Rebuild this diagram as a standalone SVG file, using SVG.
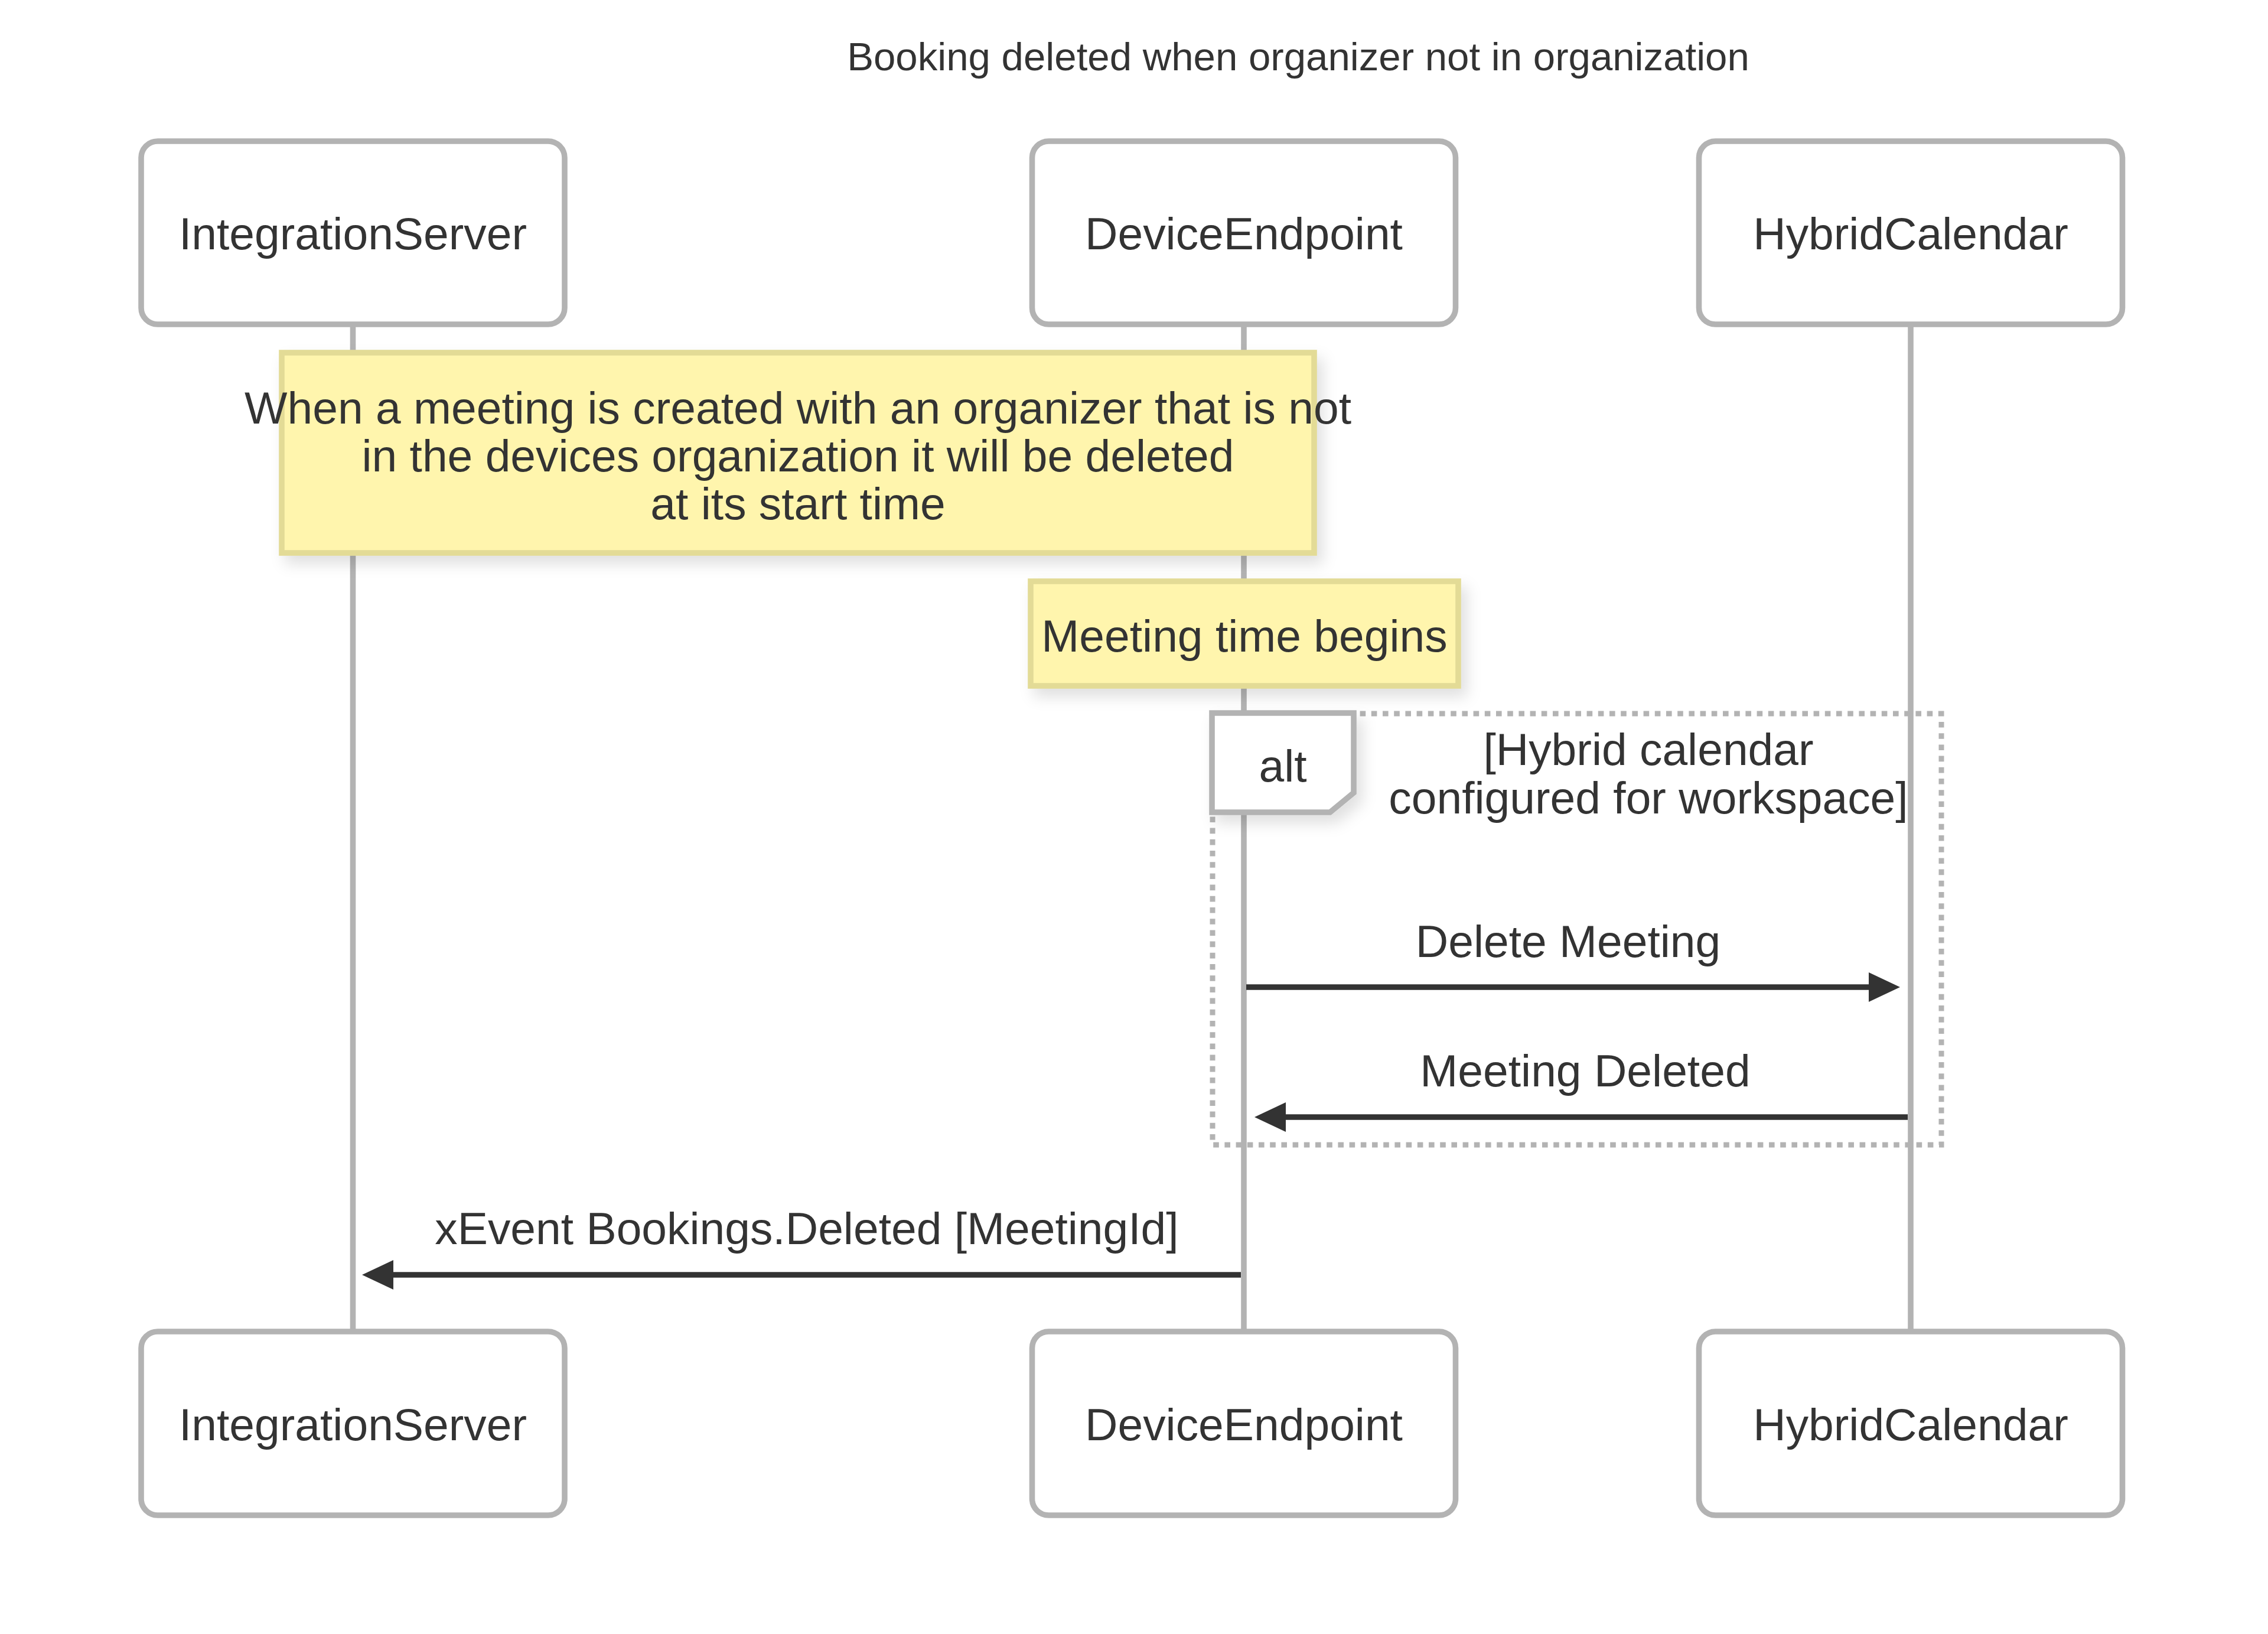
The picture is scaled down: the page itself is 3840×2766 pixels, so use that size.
<svg xmlns="http://www.w3.org/2000/svg" width="3840" height="2766" viewBox="0 0 3840 2766">
<style>
  .txt{font-family:"Liberation Sans",Arial,Helvetica,sans-serif;fill:#333333;font-size:76.8px;text-anchor:middle}
  .title{font-size:67.2px}
  .actor{fill:#ffffff;stroke:#b3b3b3;stroke-width:9.6}
  .life{stroke:#b3b3b3;stroke-width:9.6;fill:none}
  .note{fill:#fff5ad;stroke:#e3db96;stroke-width:9.6}
  .loop{fill:none;stroke:#b3b3b3;stroke-width:9;stroke-dasharray:9.6 9.6}
  .label{fill:#ffffff;stroke:#b3b3b3;stroke-width:9.6}
  .msg{stroke:#333333;stroke-width:9.6;fill:none}
</style>
<defs>
  <filter id="shadow" x="-10%" y="-10%" width="130%" height="140%">
    <feDropShadow dx="10" dy="14" stdDeviation="12" flood-color="#000000" flood-opacity="0.12"/>
  </filter>
  <marker id="arrow" markerUnits="userSpaceOnUse" viewBox="0 0 53 50" markerWidth="53" markerHeight="50" refX="43" refY="25" orient="auto">
    <path d="M0,0 L53,25 L0,50 z" fill="#333333"/>
  </marker>
</defs>
<rect x="0" y="0" width="3840" height="2766" fill="#ffffff"/>
<text class="txt title" x="2198" y="119">Booking deleted when organizer not in organization</text>

<g id="lifelines">
  <line class="life" x1="597.5" y1="549" x2="597.5" y2="2254"/>
  <line class="life" x1="2106" y1="549" x2="2106" y2="2254"/>
  <line class="life" x1="3235" y1="549" x2="3235" y2="2254"/>
</g>

<g id="actor-IntegrationServer-top">
  <rect class="actor" x="239" y="239" width="717" height="310" rx="28" ry="28"/>
  <text class="txt" x="597.5" y="422">IntegrationServer</text>
</g>
<g id="actor-DeviceEndpoint-top">
  <rect class="actor" x="1747.5" y="239" width="717" height="310" rx="28" ry="28"/>
  <text class="txt" x="2106" y="422">DeviceEndpoint</text>
</g>
<g id="actor-HybridCalendar-top">
  <rect class="actor" x="2876.5" y="239" width="717" height="310" rx="28" ry="28"/>
  <text class="txt" x="3235" y="422">HybridCalendar</text>
</g>

<g id="note-organizer">
  <rect class="note" x="477" y="597" width="1748" height="339" filter="url(#shadow)"/>
  <text class="txt" x="1351" y="717">When a meeting is created with an organizer that is not</text>
  <text class="txt" x="1351" y="798">in the devices organization it will be deleted</text>
  <text class="txt" x="1351" y="879">at its start time</text>
</g>

<g id="note-meeting-time">
  <rect class="note" x="1745" y="984" width="724" height="177" filter="url(#shadow)"/>
  <text class="txt" x="2107" y="1103">Meeting time begins</text>
</g>

<g id="alt-block">
  <rect class="loop" x="2053" y="1208" width="1234" height="730"/>
  <path class="label" d="M2052,1207 L2292,1207 L2292,1342 L2252,1375 L2052,1375 z" filter="url(#shadow)"/>
  <text class="txt" x="2172" y="1323">alt</text>
  <text class="txt" x="2791" y="1295">[Hybrid calendar</text>
  <text class="txt" x="2791" y="1377">configured for workspace]</text>
</g>

<g id="connectors">
  <g id="msg-delete-meeting">
    <line class="msg" x1="2110" y1="1671" x2="3207" y2="1671" marker-end="url(#arrow)"/>
    <text class="txt" x="2655" y="1620">Delete Meeting</text>
  </g>
  <g id="msg-meeting-deleted">
    <line class="msg" x1="3230" y1="1891" x2="2134" y2="1891" marker-end="url(#arrow)"/>
    <text class="txt" x="2684" y="1839">Meeting Deleted</text>
  </g>
  <g id="msg-xevent">
    <line class="msg" x1="2101" y1="2158" x2="623" y2="2158" marker-end="url(#arrow)"/>
    <text class="txt" x="1366" y="2106">xEvent Bookings.Deleted [MeetingId]</text>
  </g>
</g>

<g id="actor-IntegrationServer-bottom">
  <rect class="actor" x="239" y="2254" width="717" height="311" rx="28" ry="28"/>
  <text class="txt" x="597.5" y="2438">IntegrationServer</text>
</g>
<g id="actor-DeviceEndpoint-bottom">
  <rect class="actor" x="1747.5" y="2254" width="717" height="311" rx="28" ry="28"/>
  <text class="txt" x="2106" y="2438">DeviceEndpoint</text>
</g>
<g id="actor-HybridCalendar-bottom">
  <rect class="actor" x="2876.5" y="2254" width="717" height="311" rx="28" ry="28"/>
  <text class="txt" x="3235" y="2438">HybridCalendar</text>
</g>
</svg>
